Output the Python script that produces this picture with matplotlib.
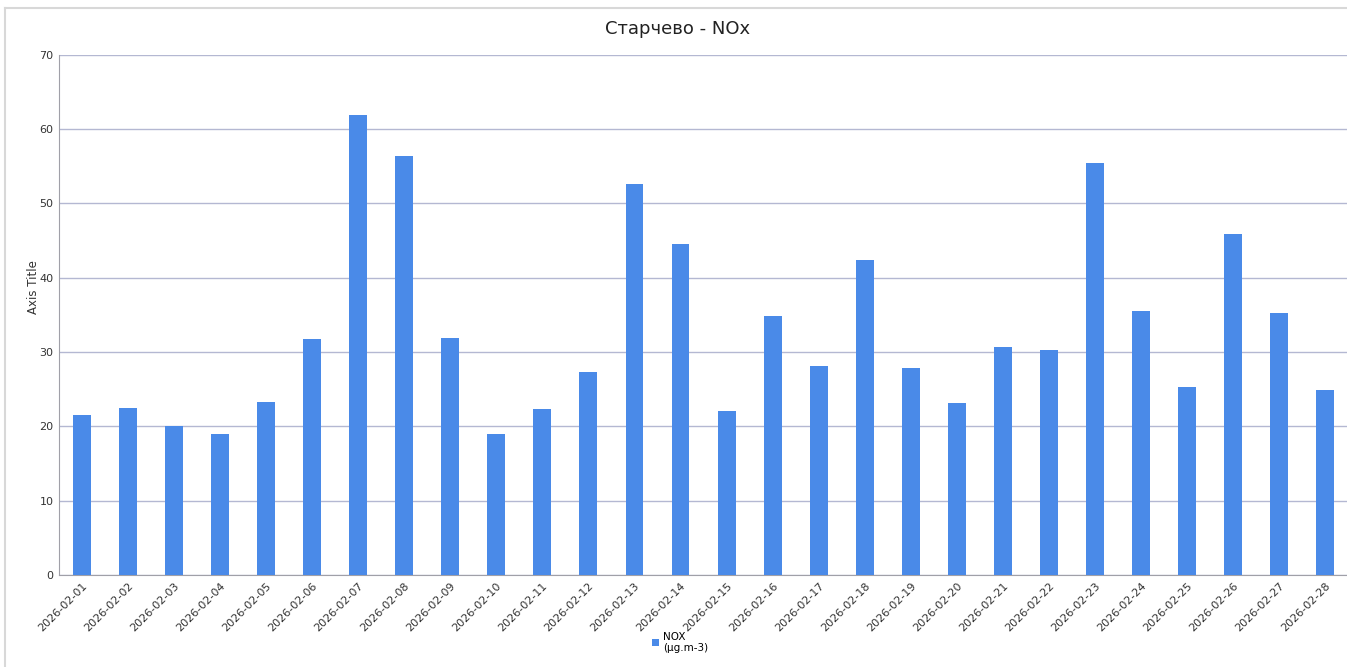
import matplotlib.pyplot as plt
import numpy as np

# Data
dates = ['2026-02-%02d' % d for d in range(1, 29)]
nox = [21.5, 22.5, 20.1, 18.9, 23.3, 31.8, 61.9, 56.4, 31.9, 18.9,
       22.3, 27.3, 52.6, 44.5, 22.1, 34.9, 28.1, 42.4, 27.9, 23.2,
       30.7, 30.3, 55.4, 35.5, 25.3, 45.9, 35.3, 24.9]
y_ticks = [0, 10, 20, 30, 40, 50, 60, 70]

bar_color = '#4a8ae8'
grid_color = '#b4b8d2'

fig = plt.figure(figsize=(13.47, 6.67), dpi=100)
ax = fig.add_axes([0.0438, 0.138, 0.957, 0.78])

x = np.arange(len(dates))
ax.bar(x, nox, width=0.39, color=bar_color, zorder=3, label='NOX\n(µg.m-3)')

ax.set_xlim(-0.5, len(dates) - 0.5)
ax.set_ylim(0, 70)
ax.set_yticks(y_ticks)
ax.set_yticklabels([str(t) for t in y_ticks], fontsize=8, color='#333333')
ax.set_xticks(x)
ax.set_xticklabels(dates, rotation=45, ha='right', rotation_mode='anchor',
                   fontsize=8, color='#333333')
ax.tick_params(axis='both', length=0, pad=4)
ax.yaxis.grid(True, color=grid_color, linewidth=1, zorder=0)

for side in ['top', 'right']:
    ax.spines[side].set_visible(False)
ax.spines['left'].set_color('#a0a0a8')
ax.spines['bottom'].set_color('#a0a0a8')

fig.text(0.503, 0.957, 'Старчево - NOx', ha='center', va='center',
         fontsize=13, color='#222222')
fig.text(0.025, 0.57, 'Axis Title', rotation=90,
         ha='center', va='center', fontsize=8.5, color='#333333')

fig.legend(loc='center', bbox_to_anchor=(0.505, 0.037), frameon=False,
           fontsize=7.5, handlelength=0.6, handleheight=0.6, handletextpad=0.4)

# faint outer frame of the chart
fig.add_artist(plt.Line2D([0.004, 1.0], [0.988, 0.988], color='#d8d8d8', lw=1.5))
fig.add_artist(plt.Line2D([0.004, 0.004], [0.0, 0.988], color='#d8d8d8', lw=1.5))

fig.savefig('out.png', dpi=100)
plt.close(fig)
